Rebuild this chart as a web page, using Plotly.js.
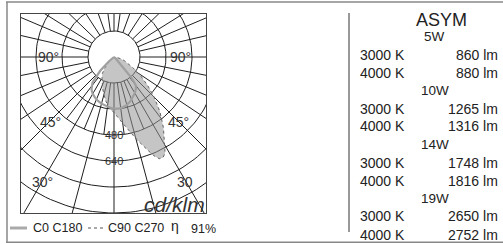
<!DOCTYPE html>
<html><head><meta charset="utf-8">
<script src="https://cdn.plot.ly/plotly-3.0.1.min.js"></script>
<style>html,body{margin:0;padding:0;background:#fff}#chart{width:503px;height:244px}</style>
</head><body><div id="chart"></div>
<script>
// ---- data (angle in degrees from nadir, positive to the right; values in cd/klm)
const c0Angles  = [-90,-60,-55,-50,-45,-40,-35,-30,-25,-20,-15,-10,-5,0,5,10,15,20,25,30,35,38,40,42,45,60,90];
const c0Values  = [0,0,5,40,120,205,242,262,276,288,297,305,312,318,319,314,305,292,274,256,236,215,170,80,20,0,0];
const c90Angles = [-90,-60,-50,-45,-40,-35,-30,-25,-20,-15,-10,-5,0,5,10,15,20,22,24,26,28,30,35,40,45,50,55,60,65,70,75,80,85,90];
const c90Values = [0,0,20,50,90,125,148,175,205,240,280,315,342,385,440,520,612,655,685,688,670,620,530,440,350,268,198,138,97,70,47,28,12,0];
const ringValues = [160,320,480,640,800,960,1120];
const ringLabelValues = [480,640];
const fullRayAngles = [0,15,-15,30,-30,45,-45,56.25,-56.25,67.5,-67.5,78.75,-78.75,90,-90,
  103,-103,113,-113,122,-122,134,-134,147,-147,160,-160,172,-172,180];
const innerRayAngles = [7.5,-7.5,22.5,-22.5,37.5,-37.5];
const angleLabels = ['90°','90°','45°','45°','30°','30'];
const unitLabel = 'cd/klm';
const legendNames = ['C0 C180','C90 C270'];
const efficiency = '91%';
const lampTitle = 'ASYM';
const powerLabels = ['5W','10W','14W','19W'];
const cctLabels = ['3000 K','4000 K'];
const lumenValues = [[860,880],[1265,1316],[1748,1816],[2650,2752]];

// ---- geometry
const W = 503, H = 244;
const L = 21, R = 206, T = 14, B = 213, CX = 114, CY = 57;
const S = 26/160; // px per cd/klm
const xr = [(L-CX)/S, (R-CX)/S], yr = [(CY-B)/S, (CY-T)/S];
const rad = d => d*Math.PI/180;
const polar = (angs, vals) => ({x: angs.map((a,i)=>vals[i]*Math.sin(rad(a))), y: angs.map((a,i)=>-vals[i]*Math.cos(rad(a)))});
const D = (px,py) => ({x:(px-CX)/S, y:(CY-py)/S});
const P = (px,py) => ({x:(px-L)/(R-L), y:(B-py)/(B-T)});

const traces = [];
const gridColor = '#1e1e1e';
ringValues.forEach(v=>{
  const xs=[], ys=[];
  for(let a=0;a<=360;a+=2){xs.push(v*Math.sin(rad(a))); ys.push(-v*Math.cos(rad(a)));}
  traces.push({x:xs,y:ys,mode:'lines',line:{color:gridColor,width:1},hoverinfo:'skip'});
});
fullRayAngles.forEach(a=>{
  traces.push({x:[160*Math.sin(rad(a)),1400*Math.sin(rad(a))],y:[-160*Math.cos(rad(a)),-1400*Math.cos(rad(a))],mode:'lines',line:{color:gridColor,width:1},hoverinfo:'skip'});
});
innerRayAngles.forEach(a=>{
  traces.push({x:[160*Math.sin(rad(a)),480*Math.sin(rad(a))],y:[-160*Math.cos(rad(a)),-480*Math.cos(rad(a))],mode:'lines',line:{color:gridColor,width:1},hoverinfo:'skip'});
});
const p90 = polar(c90Angles,c90Values);
traces.push({x:p90.x,y:p90.y,mode:'lines',fill:'toself',fillcolor:'rgba(150,150,150,0.55)',line:{color:'#666',width:1,dash:'dot'},hoverinfo:'skip'});
const p0 = polar(c0Angles,c0Values);
traces.push({x:p0.x,y:p0.y,mode:'lines',line:{color:'#a0a0a0',width:2.2},hoverinfo:'skip'});

const ann = [];
const font = 'Liberation Sans, Arial, sans-serif';
const addD = (px,py,text,size,opts={}) => { const d=D(px,py); ann.push(Object.assign({x:d.x,y:d.y,xref:'x',yref:'y',text,showarrow:false,font:{family:font,size,color:'#333'},xanchor:'center',yanchor:'middle'},opts)); };
const addP = (px,py,text,size,opts={}) => { const d=P(px,py); ann.push(Object.assign({x:d.x,y:d.y,xref:'paper',yref:'paper',text,showarrow:false,font:{family:font,size,color:'#222'},xanchor:'center',yanchor:'middle'},opts)); };

addD(48,57,angleLabels[0],14); addD(180,57,angleLabels[1],14);
addD(50,122,angleLabels[2],14); addD(178,122,angleLabels[3],14);
addD(42,182,angleLabels[4],14); addD(185,182,angleLabels[5],14);
ringLabelValues.forEach(v=>{ ann.push({x:0,y:-v,xref:'x',yref:'y',text:String(v),showarrow:false,font:{family:font,size:11,color:'#333'}}); });
addD(174,204,'<i>'+unitLabel+'</i>',21);

addP(31,228,legendNames[0],12.5,{xanchor:'left'});
addP(106,228,legendNames[1],12.5,{xanchor:'left'});
addP(175,226.5,'η',14,{xanchor:'center'});
addP(189,229,efficiency,12.5,{xanchor:'left'});

addP(441,20,lampTitle,18);
let y = 36.5;
powerLabels.forEach((pw,i)=>{
  addP(435,y,pw,13.5); y+=18;
  cctLabels.forEach((c,j)=>{
    addP(358,y,c,14,{xanchor:'left'});
    addP(500,y,lumenValues[i][j]+' lm',14,{xanchor:'right'});
    y+=18;
  });
});

const shapes = [];
const lineP = (x0,y0,x1,y1,color,width,dash) => { const a=P(x0,y0), b=P(x1,y1); shapes.push({type:'line',xref:'paper',yref:'paper',x0:a.x,y0:a.y,x1:b.x,y1:b.y,line:{color,width,dash:dash||'solid'}}); };
lineP(6,2,503,2,'#888',1.5);
lineP(7,2,7,242.5,'#888',1.5);
lineP(6,242.3,503,242.3,'#888',1.5);
lineP(349,13,349,232,'#333',1);
lineP(10,228,27,228,'#aaa',3);
lineP(88,228,104,228,'#555',1,'dot');

const layout = {
  width:W,height:H,margin:{l:L,r:W-R,t:T,b:H-B,pad:0},
  paper_bgcolor:'#fff',plot_bgcolor:'#fff',showlegend:false,
  xaxis:{range:xr,showgrid:false,zeroline:false,showticklabels:false,ticks:'',showline:true,mirror:true,linecolor:'#444',linewidth:1,fixedrange:true},
  yaxis:{range:yr,showgrid:false,zeroline:false,showticklabels:false,ticks:'',showline:true,mirror:true,linecolor:'#444',linewidth:1,fixedrange:true},
  annotations:ann,shapes:shapes
};
Plotly.newPlot('chart',traces,layout,{staticPlot:true,displayModeBar:false});
</script></body></html>
